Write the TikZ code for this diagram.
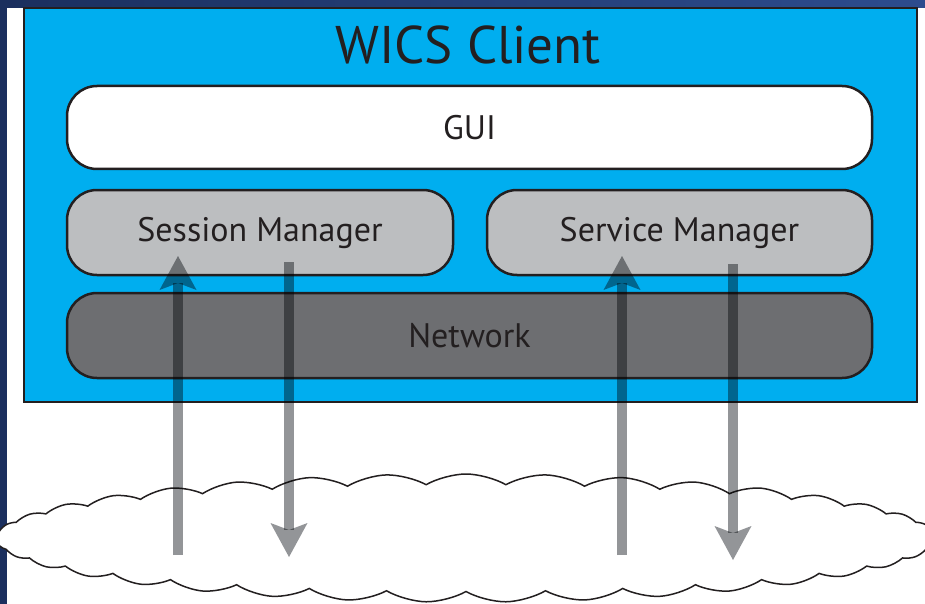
\documentclass[tikz,border=0pt]{standalone}
\usepackage{fontspec}
\setmainfont{PT Sans}
\usetikzlibrary{shapes.symbols,arrows.meta}

\definecolor{navy}{HTML}{1B2F5E}
\definecolor{navylight}{HTML}{2D4C8E}
\definecolor{clientblue}{HTML}{00AEEF}
\definecolor{lightgrey}{HTML}{BCBEC0}
\definecolor{darkgrey}{HTML}{6D6E71}
\definecolor{arrowgrey}{HTML}{939598}
\definecolor{ink}{HTML}{231F20}

\tikzset{
   layer/.style={draw=ink, line width=2.5pt, rounded corners=30pt, text=ink, font=\fontsize{34}{38}\selectfont},
   flow/.style={draw=arrowgrey, line width=10pt, blend mode=multiply, -{Stealth[length=34pt,width=37pt,inset=7pt,line width=0pt]}}
}

\begin{document}
\begin{tikzpicture}[x=1pt,y=-1pt]

   \useasboundingbox (0,0) rectangle (925,604);
   \clip (0,0) rectangle (925,604);
   \fill [navy] (0,0) rectangle (925,604);
   \shade [left color=navy, right color=navylight] (0,0) rectangle (925,8);
   \fill [white] (7,8) rectangle (925,604);

   \node (client) at (470.5,205) [draw=ink, line width=2pt, fill=clientblue, minimum width=893pt, minimum height=394pt] {};
   \node (title) at (468,45) [text=ink, font=\fontsize{53}{58}\selectfont] {WICS Client};

   \node (gui) at (469.5,127.5) [layer, fill=white, minimum width=805pt, minimum height=83pt] {GUI};
   \node (session) at (260,232.5) [layer, fill=lightgrey, minimum width=386pt, minimum height=85pt] {Session Manager};
   \node (service) at (679.5,232.5) [layer, fill=lightgrey, minimum width=385pt, minimum height=85pt] {Service Manager};
   \node (network) at (469.5,335.5) [layer, fill=darkgrey, minimum width=805pt, minimum height=85pt] {Network};

   \node (internet) at (466,538) [cloud, draw=ink, line width=1.5pt, fill=white, cloud puffs=37, cloud puff arc=60, cloud ignores aspect, minimum width=940pt, minimum height=128pt] {};

   \coordinate (sessionUpFrom) at (178,555);
   \coordinate (sessionUpTo) at (178,256);
   \coordinate (sessionDownFrom) at (289,262);
   \coordinate (sessionDownTo) at (289,557);
   \coordinate (serviceUpFrom) at (622,555);
   \coordinate (serviceUpTo) at (622,256);
   \coordinate (serviceDownFrom) at (733,264);
   \coordinate (serviceDownTo) at (733,560);

   \draw [flow] (sessionUpFrom) -- (sessionUpTo);
   \draw [flow] (sessionDownFrom) -- (sessionDownTo);
   \draw [flow] (serviceUpFrom) -- (serviceUpTo);
   \draw [flow] (serviceDownFrom) -- (serviceDownTo);

\end{tikzpicture}
\end{document}
